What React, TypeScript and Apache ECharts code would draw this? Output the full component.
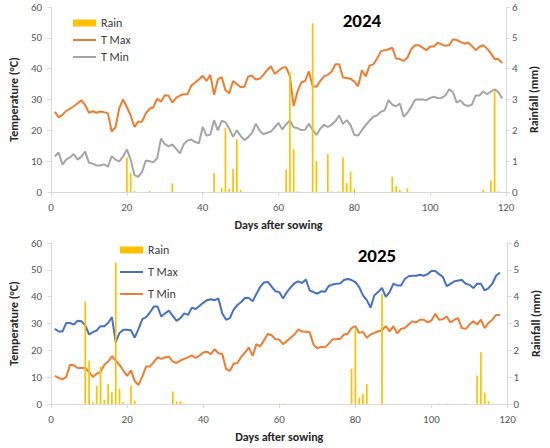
import React, { useEffect, useRef } from "react";
import * as echarts from "echarts";

const FONT = "Carlito, Lato, 'Liberation Sans', sans-serif";

const xTicks = [0, 20, 40, 60, 80, 100, 120];

const tmax2024 = [
  26, 24.2, 25, 26.3, 27, 27.8, 28.8, 29.7, 28.2, 25.7,
  26.2, 25.7, 26.1, 25.9, 25.5, 19.6, 21, 27.2, 30, 27.5,
  24.8, 21.1, 22.8, 22.8, 25.5, 27, 27.5, 30.3, 29.3, 31.4,
  31.2, 29, 30.5, 31.3, 31.7, 31.7, 34.5, 35.5, 36.5, 37.7,
  36, 38, 31.5, 36.5, 37.3, 33, 32, 36, 35, 34,
  34.1, 37.5, 37.7, 36.5, 36.7, 38, 39.5, 40.8, 38.3, 39.3,
  40.3, 40.5, 37.5, 27.9, 32.6, 35.5, 36, 39.1, 34.4, 34.1,
  36, 37.5, 38, 39, 41.4, 41.4, 37.1, 37, 36.7, 35.8,
  34.3, 39.5, 37.5, 41, 41.4, 43.3, 45.6, 46, 46.3, 46.8,
  43.3, 43.1, 42.5, 43.6, 46.3, 47.6, 47.6, 46.8, 46, 47.2,
  47.2, 48.4, 47.9, 47.4, 47.6, 49.5, 49.3, 48.7, 48.1, 48.4,
  47.4, 46, 47.1, 47.6, 46.5, 45, 43.1, 43.1, 41.8,
];

const tmin2024 = [
  11.5, 12.8, 8.9, 10.5, 11.2, 12.3, 10.5, 11.5, 13.1, 9.5,
  9.2, 8.6, 8.6, 9, 8.2, 11.6, 10.5, 9.9, 11.5, 13.8,
  10.5, 5.5, 4.9, 6.5, 10.2, 10, 9.6, 11, 17.3, 15.5,
  14.8, 15.4, 14, 12.5, 15.5, 16.7, 17, 16.2, 15.8, 21.1,
  18.3, 18.6, 23.3, 20, 23.1, 22.6, 20.6, 17.9, 20, 18.2,
  16.8, 17.8, 19.2, 22.1, 20, 18.7, 19.2, 19.6, 21, 22.4,
  20.3, 21.9, 23.2, 21, 20.7, 20.1, 20.2, 22.1, 20.2, 18.5,
  20.5, 21.8, 21.1, 21.8, 23, 24.8, 22.1, 23.3, 21.7, 18.5,
  18.3, 20.1, 21.7, 23.1, 24.4, 24.9, 26, 26.5, 29.8, 28.3,
  27.8, 28.7, 24.4, 25.7, 27.6, 29.9, 30, 30, 29.8, 30.5,
  30.9, 30.4, 30.5, 31.3, 33.3, 32.4, 29, 29.7, 28.3, 27.9,
  28.3, 31.3, 31.3, 32.6, 31.7, 32.6, 33.3, 32.4, 30.3,
];

const rainDays2024 = [20, 21, 22, 26, 32, 43, 45, 46, 47, 48, 49, 50, 62, 63, 64, 65, 69, 70, 73, 74, 76, 77, 78, 79, 80, 90, 91, 92, 94, 114, 116, 117, 118];
const rainMm2024 = [1.12, 0.62, 0.03, 0.03, 0.28, 0.62, 0.14, 2.08, 0.1, 0.74, 1.71, 0.07, 0.72, 3.88, 1.39, 0.02, 5.47, 1.0, 1.23, 0.02, 0.02, 1.12, 0.29, 0.66, 0.1, 0.5, 0.19, 0.07, 0.12, 0.07, 0.38, 3.26, 0.02];

const tmax2025 = [
  28, 27, 27, 30.2, 30.2, 29.6, 31, 30.8, 29.3, 25.9,
  26.8, 27.4, 29, 29, 30.2, 32.4, 23.1, 26.5, 27.7, 27.7,
  27.5, 24.7, 28, 31.6, 32.4, 34.1, 36.3, 36.3, 32.6, 33.8,
  34.8, 32.8, 31, 32, 33.8, 33.2, 35.9, 35.4, 36.5, 37.7,
  38.7, 39, 38.7, 39.3, 33.8, 31.4, 32, 35.2, 36.9, 38,
  39.6, 39.5, 38.3, 41.1, 43.7, 45.3, 45.5, 43.7, 42, 41.7,
  39.3, 41.7, 43.5, 45, 45.7, 45.1, 46.4, 42.3, 41.7, 41.1,
  42, 41.8, 44, 44.5, 44.8, 44.9, 46.2, 46.6, 46.2, 45.4,
  43.6, 40.5, 38.7, 35.9, 40.5, 41.7, 43.3, 39.9, 41.7, 44.8,
  44.2, 44.2, 46.6, 47.6, 47.8, 47.8, 48.2, 47.8, 48.4, 49.6,
  49.6, 48.4, 47.4, 43.9, 44.8, 45.7, 46, 46.2, 44.8, 44.4,
  43.2, 44.8, 44.8, 42.3, 43.2, 44.8, 47.8, 49,
];

const tmin2025 = [
  10.5, 9.7, 9.2, 10.1, 14.6, 14.4, 13.4, 13.4, 13.4, 11.9,
  10.1, 11.3, 11.9, 14.6, 15.8, 17.8, 16.2, 14.6, 12.5, 10.5,
  12.5, 8.5, 7.1, 10.3, 14, 14, 15.6, 17.4, 16.8, 17.4,
  17.6, 15.8, 15.3, 16.2, 16.8, 17.4, 18, 17.2, 18, 19.2,
  19.5, 18.6, 20.4, 18.9, 18.6, 13.1, 12.3, 15, 15.3, 17.6,
  19.2, 21, 18, 22.3, 21.5, 23.8, 26.1, 25.6, 24.1, 24,
  22.3, 23.5, 24.7, 25.9, 27.8, 27, 26.9, 26.7, 22.1, 20.8,
  21.3, 21.1, 22.5, 24.1, 24.1, 24.3, 25.9, 26.2, 28.3, 29,
  26.5, 26.8, 24.7, 25.9, 26.5, 27.1, 27.5, 29, 27.1, 29,
  26.3, 28, 28.3, 29.6, 30.8, 30.4, 31.4, 31.4, 30.4, 31.1,
  33.6, 31.4, 31.6, 32.6, 30.4, 31.4, 32, 28.3, 28, 29.6,
  30.8, 29.6, 31.4, 28.3, 30.2, 31.4, 33.2, 33.2,
];

const rainDays2025 = [9, 10, 11, 12, 13, 14, 15, 16, 17, 18, 19, 21, 22, 32, 33, 34, 35, 59, 60, 61, 79, 80, 81, 82, 83, 86, 87, 102, 104, 105, 109, 112, 113, 114, 115];
const rainMm2025 = [3.82, 1.61, 0.06, 0.68, 1.4, 0.16, 0.74, 0.44, 5.27, 0.58, 0.06, 0.68, 0.12, 0.46, 0.1, 0.1, 0.02, 0.01, 0.01, 0.01, 1.31, 2.78, 0.24, 0.37, 0.74, 0.01, 4.09, 0.01, 0.01, 0.01, 0.02, 1.06, 1.93, 0.42, 0.1];

const AXIS_COLOR = "#D9D9D9";
const LABEL_COLOR = "#595959";

type Cfg = {
  grid: { left: number; right: number; top: number; bottom: number };
  title: string;
  titleX: number;
  titleY: number;
  legendLeft: number;
  legendCenters: number[];
  tmax: number[];
  tmin: number[];
  rainDays: number[];
  rainMm: number[];
  tmaxColor: string;
  tminColor: string;
  leftNameGap: number;
  rightNameGap: number;
};

function makeOption(c: Cfg) {
  const maxPts = c.tmax.map((v, i) => [i + 1, v]);
  const minPts = c.tmin.map((v, i) => [i + 1, v]);
  const rainPts = c.rainDays.map((d, i) => [d, c.rainMm[i]]);
  const names = ["Rain", "T Max", "T Min"];
  const legends = names.map((n, i) => ({
    data: [{ name: n, icon: "rect" }],
    orient: "vertical",
    left: c.legendLeft,
    top: c.legendCenters[i] - 7,
    padding: 0,
    itemWidth: 23,
    itemHeight: n === "Rain" ? 7 : 2,
    selectedMode: false,
    textStyle: { fontFamily: FONT, fontSize: 12, color: "#404040", lineHeight: 14 },
  }));
  const axisCommon = {
    axisLine: { show: true, lineStyle: { color: AXIS_COLOR, width: 1 } },
    axisTick: { show: true, length: 4, lineStyle: { color: AXIS_COLOR } },
    splitLine: { show: false },
  };
  const nameStyle = { fontFamily: FONT, fontSize: 12, fontWeight: "bold", color: "#262626" };
  return {
    animation: false,
    backgroundColor: "#ffffff",
    textStyle: { fontFamily: FONT },
    grid: c.grid,
    legend: legends,
    graphic: [
      {
        type: "text",
        x: c.titleX,
        y: c.titleY,
        style: {
          text: c.title,
          fill: "#000000",
          fontFamily: FONT,
          fontSize: 19,
          fontWeight: "bold",
          align: "center",
          verticalAlign: "middle",
        },
      },
    ],
    xAxis: {
      type: "value",
      min: xTicks[0],
      max: xTicks[xTicks.length - 1],
      interval: xTicks[1] - xTicks[0],
      ...axisCommon,
      axisLabel: { color: LABEL_COLOR, fontSize: 11, fontFamily: FONT, margin: 10 },
      name: "Days after sowing",
      nameLocation: "middle",
      nameGap: 27,
      nameTextStyle: nameStyle,
    },
    yAxis: [
      {
        type: "value",
        position: "left",
        min: 0,
        max: 60,
        interval: 10,
        ...axisCommon,
        axisLabel: { color: LABEL_COLOR, fontSize: 11, fontFamily: FONT, margin: 9 },
        name: "Temperature (°C)",
        nameLocation: "middle",
        nameRotate: 90,
        nameGap: c.leftNameGap,
        nameTextStyle: nameStyle,
      },
      {
        type: "value",
        position: "right",
        min: 0,
        max: 6,
        interval: 1,
        ...axisCommon,
        axisLabel: { color: LABEL_COLOR, fontSize: 11, fontFamily: FONT, margin: 6 },
        name: "Rainfall (mm)",
        nameLocation: "middle",
        nameRotate: 90,
        nameGap: c.rightNameGap,
        nameTextStyle: nameStyle,
      },
    ],
    series: [
      {
        name: "T Max",
        type: "line",
        data: maxPts,
        yAxisIndex: 0,
        symbol: "none",
        lineStyle: { color: c.tmaxColor, width: 2 },
        itemStyle: { color: c.tmaxColor },
        z: 2,
      },
      {
        name: "T Min",
        type: "line",
        data: minPts,
        yAxisIndex: 0,
        symbol: "none",
        lineStyle: { color: c.tminColor, width: 2 },
        itemStyle: { color: c.tminColor },
        z: 2,
      },
      {
        name: "Rain",
        type: "bar",
        data: rainPts,
        yAxisIndex: 1,
        barWidth: 1.7,
        itemStyle: { color: "#FFC000" },
        z: 3,
      },
    ],
  };
}

export default function App() {
  const topRef = useRef<HTMLDivElement>(null);
  const botRef = useRef<HTMLDivElement>(null);

  useEffect(() => {
    const c1 = echarts.init(topRef.current as HTMLDivElement, null, { renderer: "svg" });
    const c2 = echarts.init(botRef.current as HTMLDivElement, null, { renderer: "svg" });
    c1.setOption(
      makeOption({
        grid: { left: 43, right: 44, top: 7, bottom: 42 },
        title: "2024",
        titleX: 362,
        titleY: 20,
        legendLeft: 73,
        legendCenters: [23, 40, 57],
        tmax: tmax2024,
        tmin: tmin2024,
        rainDays: rainDays2024,
        rainMm: rainMm2024,
        tmaxColor: "#ED7D31",
        tminColor: "#A5A5A5",
        leftNameGap: 27,
        rightNameGap: 22,
      }) as any
    );
    c2.setOption(
      makeOption({
        grid: { left: 42, right: 35, top: 7, bottom: 40 },
        title: "2025",
        titleX: 377,
        titleY: 19,
        legendLeft: 120,
        legendCenters: [14, 36, 58],
        tmax: tmax2025,
        tmin: tmin2025,
        rainDays: rainDays2025,
        rainMm: rainMm2025,
        tmaxColor: "#4472C4",
        tminColor: "#ED7D31",
        leftNameGap: 27,
        rightNameGap: 21,
      }) as any
    );
    return () => {
      c1.dispose();
      c2.dispose();
    };
  }, []);

  return (
    <div style={{ position: "absolute", left: 0, top: 0, width: 550, height: 448, background: "#ffffff" }}>
      <div ref={topRef} style={{ position: "absolute", left: 0, top: 0, width: 550, height: 236 }} />
      <div ref={botRef} style={{ position: "absolute", left: 0, top: 236, width: 550, height: 212 }} />
    </div>
  );
}
